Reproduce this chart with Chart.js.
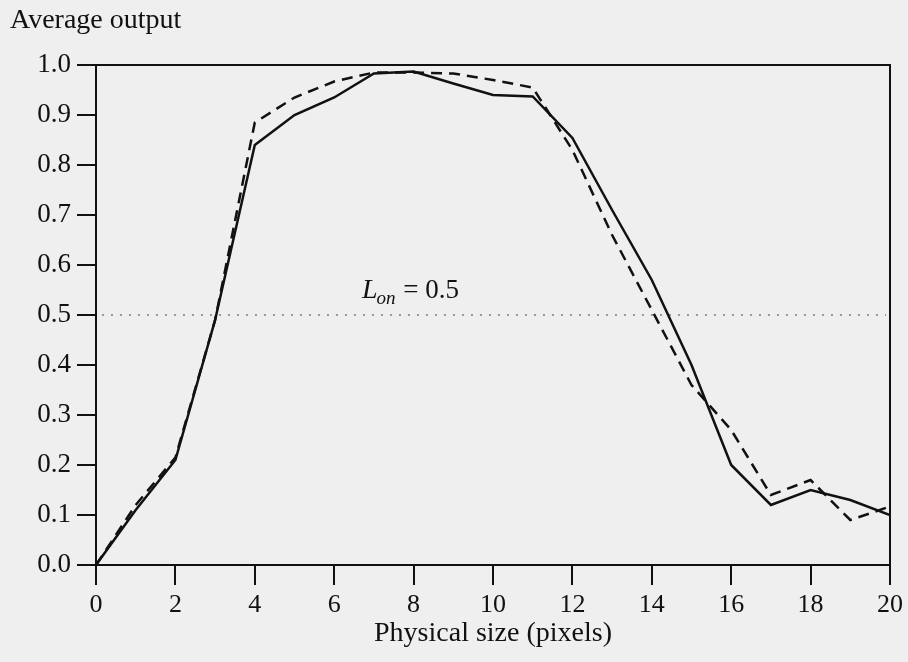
<html>
<head>
<title>Average output</title>
<style>
  body { margin: 0; background: #efefef; }
  #plot { display: block; }
</style>
</head>
<body>
<canvas id="plot" width="908" height="662"></canvas>
<script src="https://cdn.jsdelivr.net/npm/chart.js@4.4.1/dist/chart.umd.min.js"></script>
<script>
    // physical size in pixels
    var sizes = [0, 1, 2, 3, 4, 5, 6, 7, 8, 9, 10, 11, 12, 13, 14, 15, 16, 17, 18, 19, 20];
    var solidOutput = [0.0, 0.11, 0.21, 0.49, 0.84, 0.90, 0.935, 0.983, 0.987, 0.963, 0.94, 0.937, 0.854, 0.71, 0.57, 0.40, 0.20, 0.12, 0.15, 0.13, 0.10];
    var dashedOutput = [0.0, 0.12, 0.215, 0.49, 0.885, 0.935, 0.967, 0.985, 0.985, 0.983, 0.97, 0.955, 0.83, 0.66, 0.51, 0.36, 0.27, 0.14, 0.17, 0.09, 0.117];
    var threshold = 0.5; // L_on
    var thresholdSpan = [0.15, 19.9];

    var serif = "'Liberation Serif', 'DejaVu Serif', serif";

    function toPoints(ys) {
        var pts = [];
        for (var i = 0; i < sizes.length; i++) {
            pts.push({x: sizes[i], y: ys[i]});
        }
        return pts;
    }

    // background, frame, and the text bits that are not axis labels
    var decorations = {
        id: 'decorations',
        beforeDraw: function (chart) {
            var c = chart.ctx;
            c.save();
            c.fillStyle = '#efefef';
            c.fillRect(0, 0, chart.width, chart.height);
            c.restore();
        },
        afterDraw: function (chart) {
            var c = chart.ctx;
            var a = chart.chartArea;
            c.save();
            c.strokeStyle = '#111';
            c.lineWidth = 2;
            c.strokeRect(a.left, a.top, a.right - a.left, a.bottom - a.top);

            c.fillStyle = '#111';
            c.textBaseline = 'alphabetic';
            c.font = '28px ' + serif;
            c.fillText('Average output', 10, 28);

            var lx = chart.scales.x.getPixelForValue(6.7);
            var ly = chart.scales.y.getPixelForValue(0.534);
            c.font = 'italic 28px ' + serif;
            c.fillText('L', lx, ly);
            var w = c.measureText('L').width;
            c.font = 'italic 19px ' + serif;
            c.fillText('on', lx + w - 1, ly + 6);
            var w2 = c.measureText('on').width;
            c.font = '27px ' + serif;
            c.fillText(' = 0.5', lx + w + w2, ly);
            c.restore();
        }
    };

    var ctx = document.getElementById('plot').getContext('2d');
    new Chart(ctx, {
        type: 'line',
        data: {
            datasets: [
                {
                    label: 'solid',
                    data: toPoints(solidOutput),
                    borderColor: '#111',
                    borderWidth: 2.5,
                    pointRadius: 0,
                    tension: 0
                },
                {
                    label: 'dashed',
                    data: toPoints(dashedOutput),
                    borderColor: '#111',
                    borderWidth: 2.5,
                    borderDash: [11, 7],
                    pointRadius: 0,
                    tension: 0
                },
                {
                    label: 'threshold',
                    data: [{x: thresholdSpan[0], y: threshold}, {x: thresholdSpan[1], y: threshold}],
                    borderColor: '#999',
                    borderWidth: 2,
                    borderDash: [2, 7],
                    pointRadius: 0
                }
            ]
        },
        options: {
            responsive: false,
            animation: false,
            layout: {padding: {left: 0, top: 65, right: 18, bottom: 0}},
            plugins: {
                legend: {display: false},
                tooltip: {enabled: false}
            },
            scales: {
                x: {
                    type: 'linear',
                    min: 0,
                    max: 20,
                    afterFit: function (s) { s.height = 97; },
                    border: {display: true, color: '#111', width: 2},
                    grid: {drawOnChartArea: false, color: '#111', tickLength: 20, lineWidth: 2},
                    ticks: {stepSize: 2, color: '#111', padding: 5, font: {family: serif, size: 26}},
                    title: {
                        display: true,
                        text: 'Physical size (pixels)',
                        color: '#111',
                        font: {family: serif, size: 28},
                        padding: {top: 0, bottom: 12}
                    }
                },
                y: {
                    min: 0,
                    max: 1,
                    afterFit: function (s) { s.width = 96; },
                    border: {display: true, color: '#111', width: 2},
                    grid: {drawOnChartArea: false, color: '#111', tickLength: 19, lineWidth: 2},
                    ticks: {
                        stepSize: 0.1,
                        color: '#111',
                        padding: 6,
                        font: {family: serif, size: 27},
                        callback: function (v) { return v.toFixed(1); }
                    }
                }
            }
        },
        plugins: [decorations]
    });
</script>
</body>
</html>
